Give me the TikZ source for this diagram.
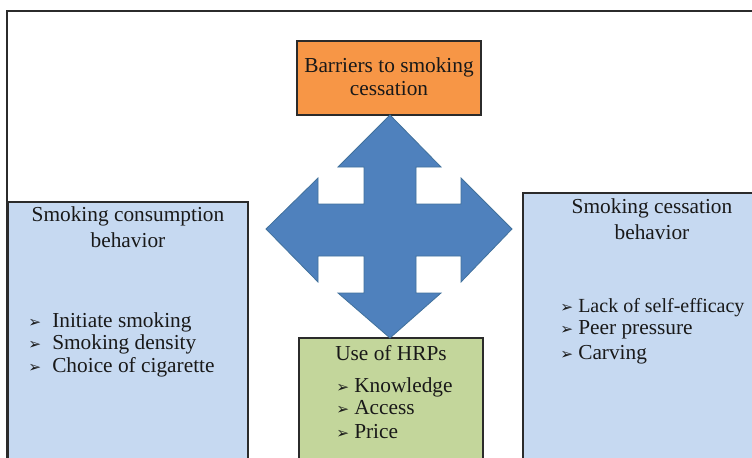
\documentclass[tikz,border=0pt]{standalone}
\usepackage{fontspec}
\setmainfont{Liberation Serif}
\newfontfamily\symfont{DejaVu Sans}
\usetikzlibrary{fit}
\definecolor{orfill}{HTML}{F79646}
\definecolor{bluefill}{HTML}{C6D9F1}
\definecolor{grfill}{HTML}{C3D69B}
\definecolor{arrfill}{HTML}{4F81BD}
\definecolor{arrline}{HTML}{41719C}
\definecolor{edge}{HTML}{2B2B2B}
\tikzset{
  boxshape/.style={draw=edge, line width=0.8pt, inner sep=0pt},
  txt/.style={inner sep=0pt, font=\fontsize{16pt}{19pt}\selectfont, text=black!90},
  bul/.style={inner sep=0pt, font=\symfont\fontsize{11.5pt}{12pt}\selectfont, text=black!90},
}
\begin{document}
\begin{tikzpicture}[x=0.75pt,y=-0.75pt]
\clip (0,0) rectangle (752,457);
\fill[white] (0,0) rectangle (752,457);
% outer frame
\draw[edge, line width=1pt] (7,11) rectangle (800,500);
% boxes
\node[boxshape, fill=orfill, fit={(297,41) (481,115)}] (orange) {};
\node[boxshape, fill=bluefill, fit={(8,202) (248,480)}] (left) {};
\node[boxshape, fill=bluefill, fit={(523,193) (800,480)}] (right) {};
\node[boxshape, fill=grfill, fit={(299,338) (483,480)}] (green) {};
% central four-way arrow
\filldraw[fill=arrfill, draw=arrline, line width=0.6pt]
  (390,115) -- (441,167) -- (416,167) -- (416,204) -- (461,204) -- (461,178)
  -- (512,229) -- (461,282) -- (461,256) -- (416,256) -- (416,293) -- (441,293)
  -- (390,338) -- (338,293) -- (364,293) -- (364,256) -- (318,256) -- (318,282)
  -- (266,229) -- (318,178) -- (318,204) -- (364,204) -- (364,167) -- (338,167) -- cycle;
% orange text
\node[txt, anchor=base] (o1) at (389,72) {Barriers to smoking};
\node[txt, anchor=base] (o2) at (389,95) {cessation};
% left text
\node[txt, anchor=base] (l1) at (128,221) {Smoking consumption};
\node[txt, anchor=base] (l2) at (128,247) {behavior};
\node[bul, anchor=base west] (lb1) at (28,327) {➢};
\node[txt, anchor=base west] (li1) at (52,327) {Initiate smoking};
\node[bul, anchor=base west] (lb2) at (28,349) {➢};
\node[txt, anchor=base west] (li2) at (52,349) {Smoking density};
\node[bul, anchor=base west] (lb3) at (28,372) {➢};
\node[txt, anchor=base west] (li3) at (52,372) {Choice of cigarette};
% right text
\node[txt, anchor=base] (r1) at (652,213) {Smoking cessation};
\node[txt, anchor=base] (r2) at (652,239) {behavior};
\node[bul, anchor=base west] (rb1) at (560,312) {➢};
\node[txt, anchor=base west, font=\fontsize{15pt}{18pt}\selectfont] (ri1) at (578,312) {Lack of self-efficacy};
\node[bul, anchor=base west] (rb2) at (560,334) {➢};
\node[txt, anchor=base west] (ri2) at (578,334) {Peer pressure};
\node[bul, anchor=base west] (rb3) at (560,359) {➢};
\node[txt, anchor=base west] (ri3) at (578,359) {Carving};
% green text
\node[txt, anchor=base west] (g1) at (335,360) {Use of HRPs};
\node[bul, anchor=base west] (gb1) at (336,392) {➢};
\node[txt, anchor=base west] (gi1) at (354,392) {Knowledge};
\node[bul, anchor=base west] (gb2) at (336,414) {➢};
\node[txt, anchor=base west] (gi2) at (354,414) {Access};
\node[bul, anchor=base west] (gb3) at (336,438) {➢};
\node[txt, anchor=base west] (gi3) at (354,438) {Price};
\end{tikzpicture}
\end{document}
